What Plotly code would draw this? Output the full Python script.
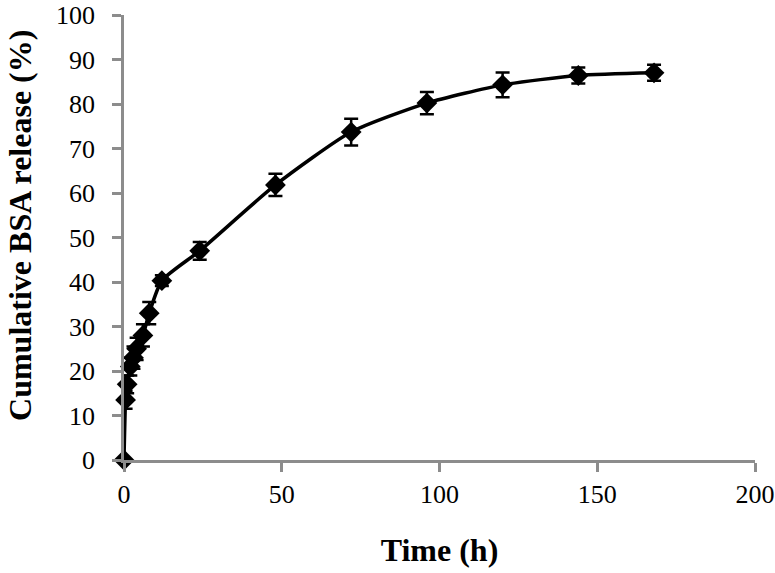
import plotly.graph_objects as go

time_h = [0, 0.5, 1, 2, 3, 4, 6, 8, 12, 24, 48, 72, 96, 120, 144, 168]
release = [0, 13.5, 17, 21, 23, 25, 28, 33, 40.3, 47, 61.8, 73.7, 80.2, 84.3, 86.4, 87.0]
err = [0, 2, 2, 2, 2.5, 2.5, 2.5, 2.5, 1.2, 2, 2.5, 3, 2.5, 2.8, 1.8, 1.8]

x_ticks = [0, 50, 100, 150, 200]
y_ticks = [0, 10, 20, 30, 40, 50, 60, 70, 80, 90, 100]

fig = go.Figure()
fig.add_trace(go.Scatter(
    x=time_h, y=release, mode="lines+markers",
    line=dict(color="black", width=3.5, shape="spline", smoothing=0.6),
    marker=dict(symbol="diamond", size=16, color="black"),
    error_y=dict(type="data", array=err, visible=True, color="black", thickness=2.5, width=7),
    cliponaxis=False,
    showlegend=False,
))

font_family = "Liberation Serif, Times New Roman, serif"
axis_common = dict(
    showgrid=False, zeroline=False, automargin=False,
    showline=True, linecolor="#8c8c8c", linewidth=2.5,
    ticks="outside", tickcolor="#8c8c8c", tickwidth=2.5, ticklen=9,
    tickfont=dict(size=26), ticklabeloverflow="allow",
)
fig.update_layout(
    width=775, height=573,
    margin=dict(l=124, r=20, t=15, b=113),
    paper_bgcolor="white", plot_bgcolor="white",
    font=dict(family=font_family, color="black", size=26),
    xaxis=dict(
        range=[0, 200], tickvals=x_ticks, **axis_common,
        title=dict(text="<b>Time (h)</b>", font=dict(size=32), standoff=31),
    ),
    yaxis=dict(
        range=[0, 100], tickvals=y_ticks, ticklabelstandoff=12, **axis_common,
    ),
    annotations=[dict(
        text="<b>Cumulative BSA release (%)</b>", textangle=-90,
        xref="paper", yref="paper", x=-0.1648, y=0.526,
        xanchor="center", yanchor="middle", showarrow=False,
        font=dict(size=32, family=font_family, color="black"),
    )],
)
fig.write_html(
    "out.html",
    config={"displayModeBar": False},
    post_script="document.body.style.margin='0';document.body.style.overflow='hidden';",
)
